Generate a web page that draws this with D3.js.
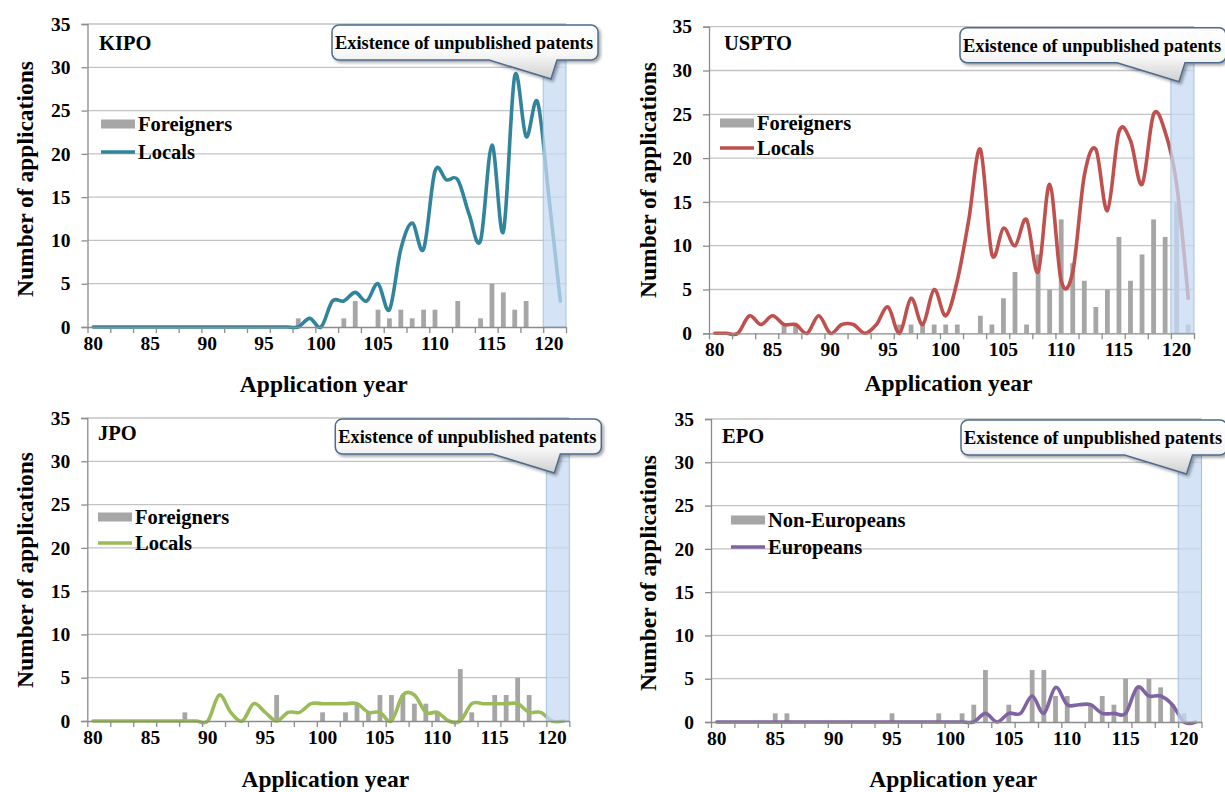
<!DOCTYPE html>
<html>
<head>
<meta charset="utf-8">
<script src="https://cdn.jsdelivr.net/npm/d3@7"></script>
<style>
  body { margin: 0; background: #fff; }
  svg text { font-family: "Liberation Serif", "Times New Roman", serif; font-weight: bold; fill: #000; }
</style>
</head>
<body>
<div id="chart"></div>
<script>
// application years (1980..2021 written as 80..121)
const years = [80, 81, 82, 83, 84, 85, 86, 87, 88, 89, 90, 91, 92, 93, 94, 95, 96, 97, 98, 99, 100,
  101, 102, 103, 104, 105, 106, 107, 108, 109, 110, 111, 112, 113, 114, 115, 116, 117, 118, 119, 120, 121];
const xTickLabels = [80, 85, 90, 95, 100, 105, 110, 115, 120];
const yTicks = [0, 5, 10, 15, 20, 25, 30, 35];
const unpublishedYears = [120, 121];

const kipoForeigners = [0, 0, 0, 0, 0, 0, 0, 0, 0, 0, 0, 0, 0, 0, 0, 0, 0, 0, 1, 0, 0,
  0, 1, 3, 0, 2, 1, 2, 1, 2, 2, 0, 3, 0, 1, 5, 4, 2, 3, 0, 0, 0];
const kipoLocals = [0, 0, 0, 0, 0, 0, 0, 0, 0, 0, 0, 0, 0, 0, 0, 0, 0, 0, 0, 1, 0,
  3, 3, 4, 3, 5, 2, 9, 12, 9, 18, 17, 17, 13, 10, 21, 11, 29, 22, 26, 15, 3];

const usptoForeigners = [0, 0, 0, 0, 0, 0, 1, 1, 0, 0, 0, 0, 0, 0, 0, 0, 1, 1, 1, 1, 1,
  1, 0, 2, 1, 4, 7, 1, 9, 5, 13, 8, 6, 3, 5, 11, 6, 9, 13, 11, 15, 1];
const usptoLocals = [0, 0, 0, 2, 1, 2, 1, 1, 0, 2, 0, 1, 1, 0, 1, 3, 0, 4, 1, 5, 2,
  6, 13, 21, 9, 12, 10, 13, 7, 17, 6, 7, 18, 21, 14, 23, 22, 17, 25, 23, 17, 4];

const jpoForeigners = [0, 0, 0, 0, 0, 0, 0, 0, 1, 0, 0, 0, 0, 0, 0, 0, 3, 0, 0, 0, 1,
  0, 1, 2, 1, 3, 3, 3, 2, 2, 1, 0, 6, 1, 0, 3, 3, 5, 3, 0, 0, 0];
const jpoLocals = [0, 0, 0, 0, 0, 0, 0, 0, 0, 0, 0, 3, 1, 0, 2, 1, 0, 1, 1, 2, 2,
  2, 2, 2, 1, 1, 0, 3, 3, 1, 1, 0, 0, 2, 2, 2, 2, 2, 1, 1, 0, 0];

const epoNonEuropeans = [0, 0, 0, 0, 0, 1, 1, 0, 0, 0, 0, 0, 0, 0, 0, 1, 0, 0, 0, 1, 0,
  1, 2, 6, 0, 2, 0, 6, 6, 3, 3, 0, 2, 3, 2, 5, 4, 5, 4, 2, 1, 0];
const epoEuropeans = [0, 0, 0, 0, 0, 0, 0, 0, 0, 0, 0, 0, 0, 0, 0, 0, 0, 0, 0, 0, 0,
  0, 0, 1, 0, 1, 1, 3, 1, 4, 2, 2, 2, 1, 1, 1, 4, 3, 3, 2, 0, 0];

const barLabels = ["Foreigners", "Foreigners", "Foreigners", "Non-Europeans"];
const lineLabels = ["Locals", "Locals", "Locals", "Europeans"];
const officeNames = ["KIPO", "USPTO", "JPO", "EPO"];

const panels = [
  { name: officeNames[0], bars: kipoForeigners, line: kipoLocals, color: "#31849B",
    barLabel: barLabels[0], lineLabel: lineLabels[0],
    x0: 87.5, x1: 566, top: 24, bottom: 327,
    yTitle: [25, 179], xTitleY: 384, nameXY: [99, 50], legX: 101, legY: [124, 152] },
  { name: officeNames[1], bars: usptoForeigners, line: usptoLocals, color: "#C0504D",
    barLabel: barLabels[1], lineLabel: lineLabels[1],
    x0: 709, x1: 1194, top: 26.7, bottom: 333.3,
    yTitle: [648, 180], xTitleY: 383, nameXY: [724, 50], legX: 720, legY: [123, 148] },
  { name: officeNames[2], bars: jpoForeigners, line: jpoLocals, color: "#9BBB59",
    barLabel: barLabels[2], lineLabel: lineLabels[2],
    x0: 87.3, x1: 569.3, top: 418, bottom: 721,
    yTitle: [25, 570], xTitleY: 779, nameXY: [98, 440], legX: 98, legY: [517, 543] },
  { name: officeNames[3], bars: epoNonEuropeans, line: epoEuropeans, color: "#8064A2",
    barLabel: barLabels[3], lineLabel: lineLabels[3],
    x0: 711, x1: 1201.5, top: 419, bottom: 722,
    yTitle: [648, 573], xTitleY: 779, nameXY: [722, 443], legX: 731, legY: [520, 547] }
];

const svg = d3.select("#chart")
  .append("svg")
  .attr("width", 1225)
  .attr("height", 792);

// callout fill and shadow
const defs = svg.append("defs");
const grad = defs.append("linearGradient")
  .attr("id", "calloutFill")
  .attr("x1", 0).attr("y1", 0).attr("x2", 0).attr("y2", 1);
grad.append("stop").attr("offset", "0%").attr("stop-color", "#ffffff");
grad.append("stop").attr("offset", "55%").attr("stop-color", "#f7f7f7");
grad.append("stop").attr("offset", "100%").attr("stop-color", "#cfcfcf");
defs.append("filter")
  .attr("id", "shadow")
  .attr("x", "-10%").attr("y", "-10%").attr("width", "130%").attr("height", "140%")
  .append("feDropShadow")
  .attr("dx", 2).attr("dy", 2).attr("stdDeviation", 1.5)
  .attr("flood-color", "#000").attr("flood-opacity", 0.35);

function calloutPath(l, t, w, h, r, b0, b1, tx, ty) {
  const p = d3.path();
  p.moveTo(l + r, t);
  p.lineTo(l + w - r, t);
  p.arcTo(l + w, t, l + w, t + r, r);
  p.lineTo(l + w, t + h - r);
  p.arcTo(l + w, t + h, l + w - r, t + h, r);
  p.lineTo(b1, t + h);
  p.lineTo(tx, ty);
  p.lineTo(b0, t + h);
  p.lineTo(l + r, t + h);
  p.arcTo(l, t + h, l, t + h - r, r);
  p.lineTo(l, t + r);
  p.arcTo(l, t, l + r, t, r);
  p.closePath();
  return p.toString();
}

function drawPanel(p) {
  const g = svg.append("g");

  let x = d3.scaleBand().domain(years).range([p.x0, p.x1]);
  let xIdx = d3.scaleLinear().domain([0, years.length]).range([p.x0, p.x1]);
  let y = d3.scaleLinear().domain([0, 35]).range([p.bottom, p.top]);
  let cx = d => x(d) + x.bandwidth() / 2;

  // gridlines
  g.append("g")
    .selectAll("line")
    .data(yTicks.slice(1))
    .join("line")
    .attr("x1", p.x0).attr("x2", p.x1)
    .attr("y1", d => y(d)).attr("y2", d => y(d))
    .attr("stroke", "#C3C3C3")
    .attr("stroke-width", 1.3);

  // bars
  g.append("g")
    .selectAll("rect")
    .data(years)
    .join("rect")
    .attr("x", d => cx(d) - 2.4)
    .attr("width", 4.8)
    .attr("y", (d, i) => y(p.bars[i]))
    .attr("height", (d, i) => y(0) - y(p.bars[i]))
    .attr("fill", "#A6A6A6");

  // smoothed line
  let line = d3.line()
    .x(d => cx(d))
    .y((d, i) => y(p.line[i]))
    .curve(d3.curveCardinal.tension(0));

  g.append("path")
    .datum(years)
    .attr("d", line)
    .attr("fill", "none")
    .attr("stroke", p.color)
    .attr("stroke-width", 3.6)
    .attr("stroke-linejoin", "round")
    .attr("stroke-linecap", "round");

  // shaded region for unpublished years
  let bx = x(unpublishedYears[0]);
  g.append("rect")
    .attr("x", bx)
    .attr("width", x(unpublishedYears[1]) + x.bandwidth() - bx)
    .attr("y", p.top + 30)
    .attr("height", p.bottom - p.top - 30)
    .attr("fill", "#C6D9F1")
    .attr("fill-opacity", 0.75)
    .attr("stroke", "#A9C1E0")
    .attr("stroke-width", 1);

  // y axis
  let yAxis = g.append("g")
    .attr("transform", `translate(${p.x0},0)`)
    .call(d3.axisLeft(y).tickValues(yTicks).tickSize(6).tickPadding(11))
    .attr("font-family", null)
    .attr("font-size", null);
  yAxis.selectAll("text").style("font-size", "19.5px");

  // x axis: tick marks every two years on band edges
  g.append("g")
    .attr("transform", `translate(0,${p.bottom})`)
    .call(d3.axisBottom(xIdx).tickValues(d3.range(0, years.length + 1, 2)).tickSize(6).tickFormat(""))
    .call(a => a.select(".domain").remove());

  // x axis labels every five years
  let xAxis = g.append("g")
    .attr("transform", `translate(0,${p.bottom})`)
    .call(d3.axisBottom(x).tickValues(xTickLabels).tickSize(0).tickPadding(9).tickSizeOuter(0))
    .attr("font-family", null)
    .attr("font-size", null);
  xAxis.selectAll("text").style("font-size", "19.5px");

  g.selectAll(".domain, .tick line")
    .attr("stroke", "#8C8C8C")
    .attr("stroke-width", 1.3);

  // axis titles
  g.append("text")
    .attr("transform", `translate(${p.yTitle[0]},${p.yTitle[1]}) rotate(-90)`)
    .attr("text-anchor", "middle")
    .attr("dy", "0.35em")
    .style("font-size", "23.5px")
    .text("Number of applications");

  g.append("text")
    .attr("x", (p.x0 + p.x1) / 2 - 3)
    .attr("y", p.xTitleY)
    .attr("text-anchor", "middle")
    .attr("dy", "0.35em")
    .style("font-size", "23.5px")
    .text("Application year");

  // office name
  g.append("text")
    .attr("x", p.nameXY[0])
    .attr("y", p.nameXY[1])
    .style("font-size", "20.5px")
    .text(p.name);

  // legend
  g.append("rect")
    .attr("x", p.legX).attr("y", p.legY[0] - 4.5)
    .attr("width", 34).attr("height", 9)
    .attr("fill", "#A6A6A6");
  g.append("line")
    .attr("x1", p.legX).attr("x2", p.legX + 34)
    .attr("y1", p.legY[1]).attr("y2", p.legY[1])
    .attr("stroke", p.color)
    .attr("stroke-width", 3.6);
  g.selectAll(".legtext")
    .data([p.barLabel, p.lineLabel])
    .join("text")
    .attr("x", p.legX + 37)
    .attr("y", (d, i) => p.legY[i])
    .attr("dy", "0.35em")
    .style("font-size", "20.5px")
    .text(d => d);

  // callout (kept inside the page on the right-hand panels)
  let l = Math.min(p.x1 - 234, 961), t = p.top + 1;
  g.append("path")
    .attr("d", calloutPath(l, t, 266, 35, 7, p.x1 - 77, p.x1 - 9, p.x1 - 15, p.top + 55))
    .attr("fill", "url(#calloutFill)")
    .attr("stroke", "#4F6B8C")
    .attr("stroke-width", 1.5)
    .attr("filter", "url(#shadow)");
  g.append("text")
    .attr("x", l + 3)
    .attr("y", t + 18)
    .attr("dy", "0.35em")
    .style("font-size", "18.4px")
    .text("Existence of unpublished patents");
}

panels.forEach(drawPanel);
</script>
</body>
</html>
